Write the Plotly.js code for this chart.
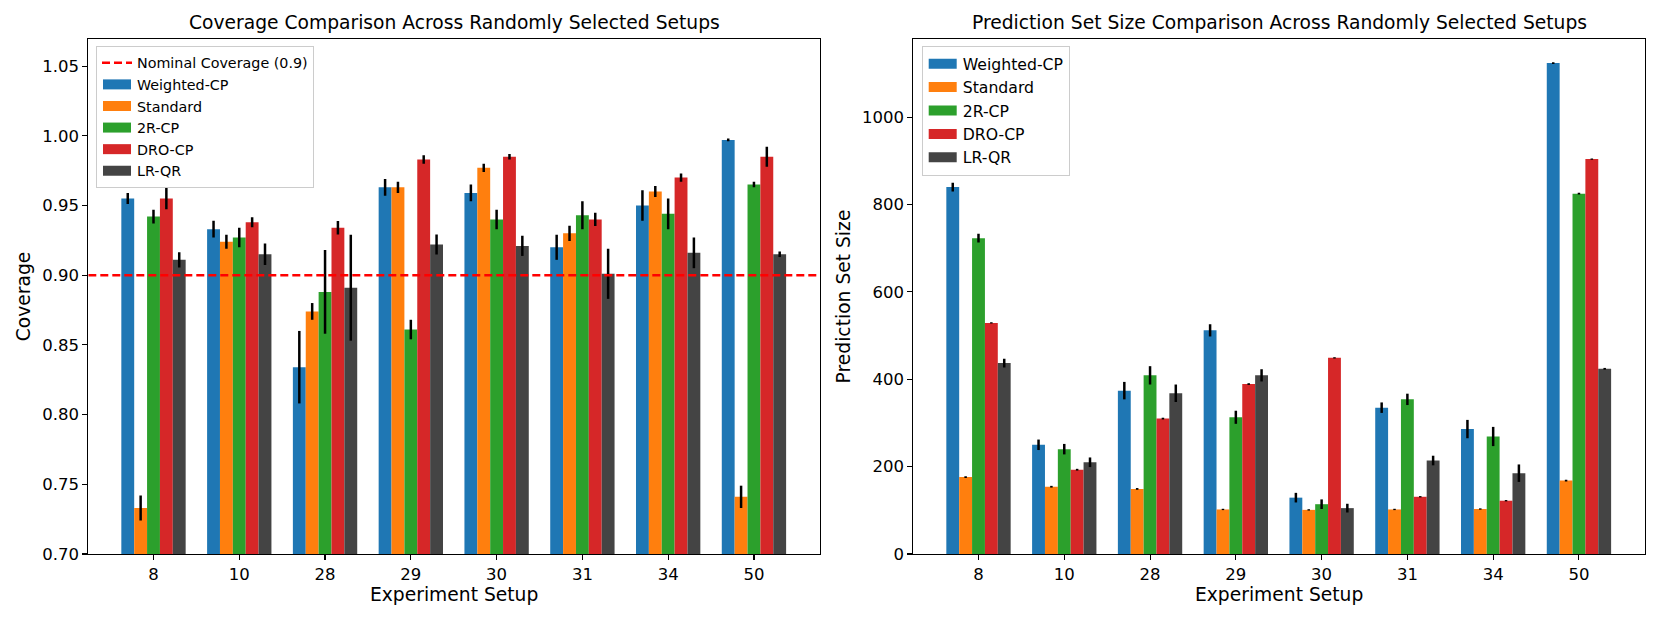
<!DOCTYPE html>
<html>
<head>
<meta charset="utf-8">
<script src="https://cdn.plot.ly/plotly-3.0.1.min.js"></script>
<style>html,body{margin:0;padding:0;background:#fff;}#chart{width:1661px;height:623px;}</style>
</head>
<body>
<div id="chart"></div>
<script>
// ---- data ----
const setups = ['8', '10', '28', '29', '30', '31', '34', '50'];
const methods = ['Weighted-CP', 'Standard', '2R-CP', 'DRO-CP', 'LR-QR'];
const colors = ['#1f77b4', '#ff7f0e', '#2ca02c', '#d62728', '#444444'];
const nominalCoverage = 0.9;

// coverage means
const covWeighted = [0.955, 0.933, 0.834, 0.963, 0.959, 0.920, 0.950, 0.997];
const covStandard = [0.733, 0.924, 0.874, 0.963, 0.977, 0.930, 0.960, 0.741];
const cov2R       = [0.942, 0.927, 0.888, 0.861, 0.940, 0.943, 0.944, 0.965];
const covDRO      = [0.955, 0.938, 0.934, 0.983, 0.985, 0.940, 0.970, 0.985];
const covLRQR     = [0.911, 0.915, 0.891, 0.922, 0.921, 0.901, 0.916, 0.915];
// coverage error (half-length)
const covErrWeighted = [0.004, 0.006, 0.026, 0.006, 0.006, 0.009, 0.011, 0.001];
const covErrStandard = [0.009, 0.005, 0.006, 0.004, 0.003, 0.0055, 0.004, 0.008];
const covErr2R       = [0.005, 0.007, 0.030, 0.007, 0.007, 0.010, 0.011, 0.002];
const covErrDRO      = [0.0077, 0.0036, 0.0048, 0.003, 0.002, 0.0048, 0.003, 0.0072];
const covErrLRQR     = [0.0055, 0.0077, 0.038, 0.0072, 0.0072, 0.018, 0.011, 0.002];

// prediction set size means
const sizeWeighted = [840, 250, 374, 512, 129, 335, 286, 1124];
const sizeStandard = [176, 154, 149, 102, 101, 102, 103, 168];
const size2R       = [723, 240, 409, 313, 114, 354, 269, 825];
const sizeDRO      = [529, 193, 310, 389, 449, 131, 122, 904];
const sizeLRQR     = [437, 210, 368, 409, 105, 214, 185, 424];
// size error (half-length)
const sizeErrWeighted = [10, 12, 20, 14, 11, 12, 21, 2];
const sizeErrStandard = [2, 2, 2, 1.5, 1.5, 1.5, 1.5, 2];
const sizeErr2R       = [10, 12, 21, 15, 11, 13, 22, 2];
const sizeErrDRO      = [1.5, 2, 2, 2, 1.5, 1.5, 1.5, 1.5];
const sizeErrLRQR     = [10, 11, 20, 14, 10, 11, 20, 2];

const yTicksCov = [0.70, 0.75, 0.80, 0.85, 0.90, 0.95, 1.00, 1.05];
const yTicksSize = [0, 200, 400, 600, 800, 1000];

// ---- build ----
const idx = setups.map((_, i) => i);
const xRange = [-0.76, 7.77];
const covMeans = [covWeighted, covStandard, cov2R, covDRO, covLRQR];
const covErrs = [covErrWeighted, covErrStandard, covErr2R, covErrDRO, covErrLRQR];
const sizeMeans = [sizeWeighted, sizeStandard, size2R, sizeDRO, sizeLRQR];
const sizeErrs = [sizeErrWeighted, sizeErrStandard, sizeErr2R, sizeErrDRO, sizeErrLRQR];

const FONT = 'DejaVu Sans, Liberation Sans, sans-serif';
const data = [];
data.push({
  type: 'scatter', mode: 'lines', x: xRange, y: [nominalCoverage, nominalCoverage],
  line: {color: '#ff0000', width: 2.5, dash: '8px,4px'}, name: 'Nominal Coverage (0.9)',
  xaxis: 'x', yaxis: 'y', legend: 'legend', hoverinfo: 'skip'
});
methods.forEach((m, k) => {
  data.push({
    type: 'bar', x: idx, y: covMeans[k], name: m, xaxis: 'x', yaxis: 'y', legend: 'legend',
    marker: {color: colors[k], line: {width: 0}},
    error_y: {type: 'data', array: covErrs[k], visible: true, color: '#000', thickness: 2.5, width: 0}
  });
});
methods.forEach((m, k) => {
  data.push({
    type: 'bar', x: idx, y: sizeMeans[k], name: m, xaxis: 'x2', yaxis: 'y2', legend: 'legend2',
    marker: {color: colors[k], line: {width: 0}},
    error_y: {type: 'data', array: sizeErrs[k], visible: true, color: '#000', thickness: 2.5, width: 0}
  });
});

const W = 1661, H = 623;
const axCommon = {
  showline: true, mirror: true, linecolor: '#000', linewidth: 1.1,
  ticks: 'outside', ticklen: 5, tickwidth: 1.1, tickcolor: '#000',
  showgrid: false, zeroline: false,
  tickfont: {family: FONT, size: 16.5, color: '#000'}
};
const left0 = 88.3 / W, left1 = 820 / W, right0 = 913.3 / W, right1 = 1645 / W;
const yd = [(H - 554) / H, (H - 39) / H];

const layout = {
  width: W, height: H,
  margin: {l: 0, r: 0, t: 0, b: 0},
  paper_bgcolor: '#fff', plot_bgcolor: '#fff',
  font: {family: FONT, color: '#000'},
  barmode: 'group', bargap: 0.25, bargroupgap: 0,
  xaxis: Object.assign({}, axCommon, {
    domain: [left0, left1], range: xRange, tickvals: idx, ticktext: setups, anchor: 'y',
    title: {text: 'Experiment Setup', font: {family: FONT, size: 18.7, color: '#000'}, standoff: 4}
  }),
  yaxis: Object.assign({}, axCommon, {
    domain: yd, range: [0.70, 1.0694], tickvals: yTicksCov, tickformat: '.2f', anchor: 'x',
    title: {text: 'Coverage', font: {family: FONT, size: 18.7, color: '#000'}, standoff: 6}
  }),
  xaxis2: Object.assign({}, axCommon, {
    domain: [right0, right1], range: xRange, tickvals: idx, ticktext: setups, anchor: 'y2',
    title: {text: 'Experiment Setup', font: {family: FONT, size: 18.7, color: '#000'}, standoff: 4}
  }),
  yaxis2: Object.assign({}, axCommon, {
    domain: yd, range: [0, 1179], tickvals: yTicksSize, anchor: 'x2',
    title: {text: 'Prediction Set Size', font: {family: FONT, size: 18.7, color: '#000'}, standoff: 6}
  }),
  legend: {
    x: 96 / W, y: (H - 46) / H, xanchor: 'left', yanchor: 'top',
    bgcolor: 'rgba(255,255,255,0.8)', bordercolor: '#cccccc', borderwidth: 1,
    font: {family: FONT, size: 14.3, color: '#000'}, tracegroupgap: 0, itemwidth: 30
  },
  legend2: {
    x: 921.7 / W, y: (H - 46) / H, xanchor: 'left', yanchor: 'top',
    bgcolor: 'rgba(255,255,255,0.8)', bordercolor: '#cccccc', borderwidth: 1,
    font: {family: FONT, size: 15.7, color: '#000'}, tracegroupgap: 0, itemwidth: 30
  },
  annotations: [
    {text: 'Coverage Comparison Across Randomly Selected Setups', xref: 'paper', yref: 'paper',
     x: (left0 + left1) / 2, y: (H - 23) / H, xanchor: 'center', yanchor: 'middle', showarrow: false,
     font: {family: FONT, size: 18.7, color: '#000'}},
    {text: 'Prediction Set Size Comparison Across Randomly Selected Setups', xref: 'paper', yref: 'paper',
     x: (right0 + right1) / 2, y: (H - 23) / H, xanchor: 'center', yanchor: 'middle', showarrow: false,
     font: {family: FONT, size: 18.7, color: '#000'}}
  ],
  showlegend: true
};

function widenSwatches() {
  // matplotlib-like wide rectangles for bar legend swatches (same span as the line swatch)
  document.querySelectorAll('.legendpoints path').forEach(function (p) {
    const d = p.getAttribute('d') || '';
    if (/^M6,6H-6V-6H6Z$/.test(d.replace(/\s/g, ''))) {
      p.setAttribute('d', 'M14,5H-14V-5H14Z');
    }
  });
}
Plotly.newPlot('chart', data, layout, {staticPlot: true, displayModeBar: false}).then(function () {
  widenSwatches();
  setTimeout(widenSwatches, 50);
  setTimeout(widenSwatches, 300);
});
</script>
</body>
</html>
